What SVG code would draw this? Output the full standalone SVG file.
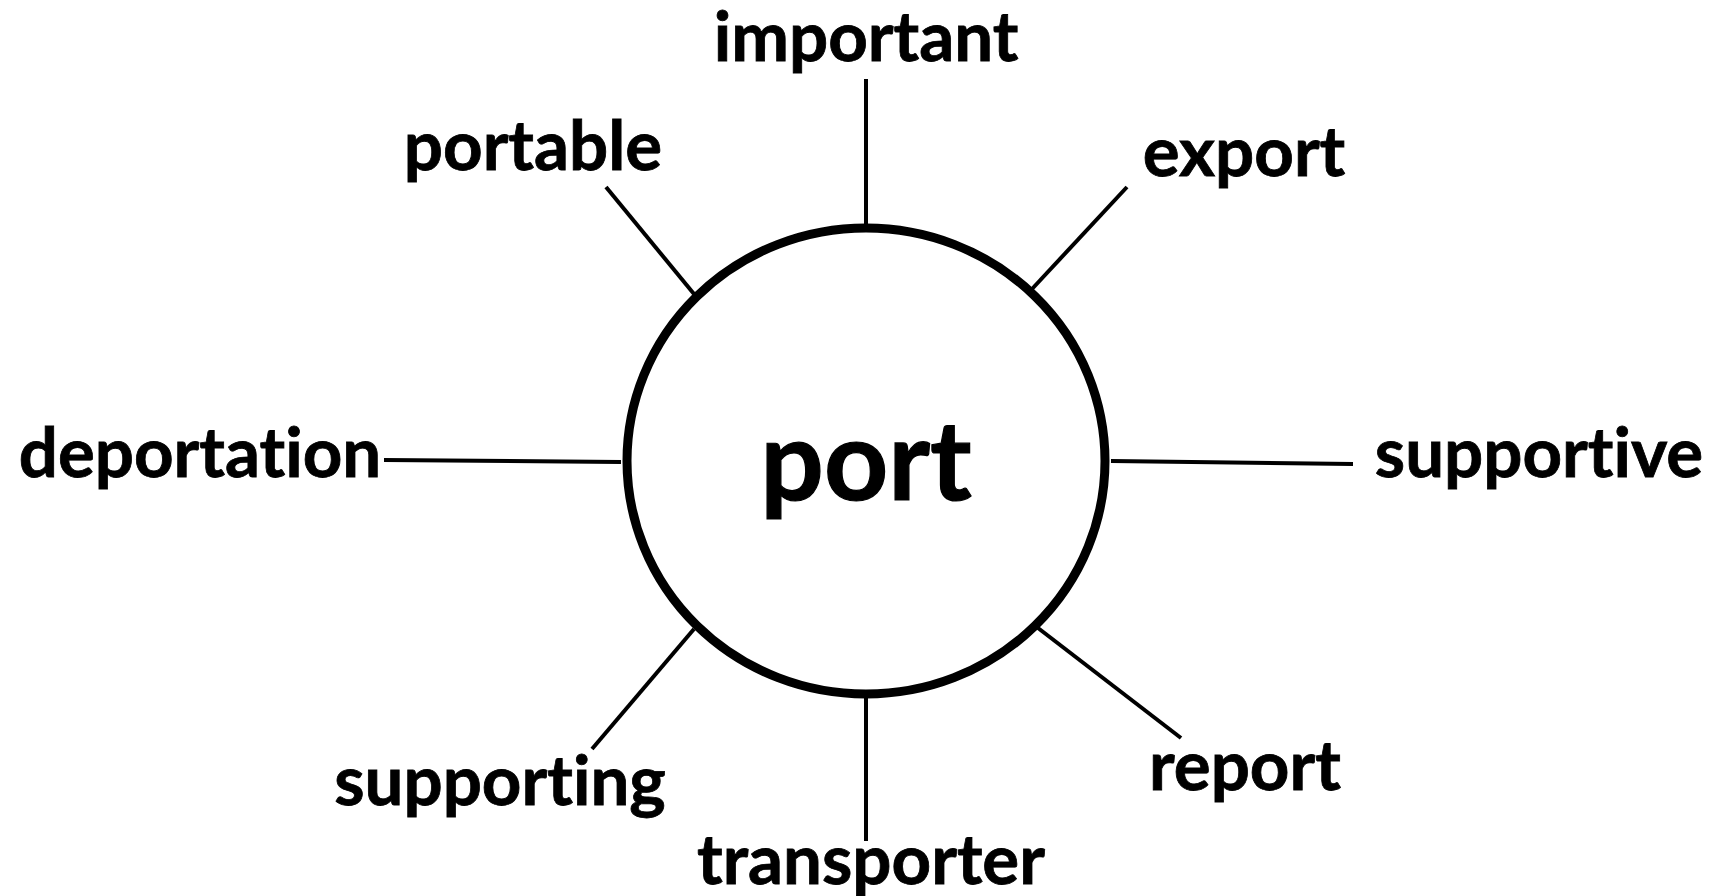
<svg xmlns="http://www.w3.org/2000/svg" width="1721" height="896" viewBox="0 0 1721 896">
<style>
.lbl{font-family:Lato,"Open Sans","Liberation Sans",sans-serif;font-weight:bold;font-size:69px;fill:#000;text-anchor:middle;font-variant-ligatures:none;font-feature-settings:"liga" 0,"clig" 0;stroke:#000;stroke-width:0.8}
.hub{font-size:112px;stroke-width:1.2}
.con{stroke:#000;stroke-width:4;fill:none}
</style>
<rect width="1721" height="896" fill="#fff"/>
<g id="connectors">
<line class="con" x1="866" y1="79" x2="866" y2="228"/>
<line class="con" x1="606" y1="187" x2="694" y2="294"/>
<line class="con" x1="1127" y1="187" x2="1032" y2="289"/>
<line class="con" x1="384" y1="460" x2="621" y2="462"/>
<line class="con" x1="1111" y1="461" x2="1353" y2="464"/>
<line class="con" x1="694" y1="629" x2="592" y2="749"/>
<line class="con" x1="866" y1="698" x2="866" y2="841"/>
<line class="con" x1="1038" y1="628" x2="1181" y2="738"/>
</g>
<g id="port"><ellipse cx="866" cy="461" rx="239" ry="233" fill="#fff" stroke="#000" stroke-width="9"/><text class="lbl hub" x="866" y="500">port</text></g>
<g id="important"><text class="lbl" x="866" y="61">important</text></g>
<g id="portable"><text class="lbl" x="533" y="170">portable</text></g>
<g id="export"><text class="lbl" x="1244" y="176">export</text></g>
<g id="deportation"><text class="lbl" x="200" y="477">deportation</text></g>
<g id="supportive"><text class="lbl" x="1539" y="477">supportive</text></g>
<g id="supporting"><text class="lbl" x="500" y="805">supporting</text></g>
<g id="transporter"><text class="lbl" x="871" y="884">transporter</text></g>
<g id="report"><text class="lbl" x="1245" y="790">report</text></g>
</svg>
